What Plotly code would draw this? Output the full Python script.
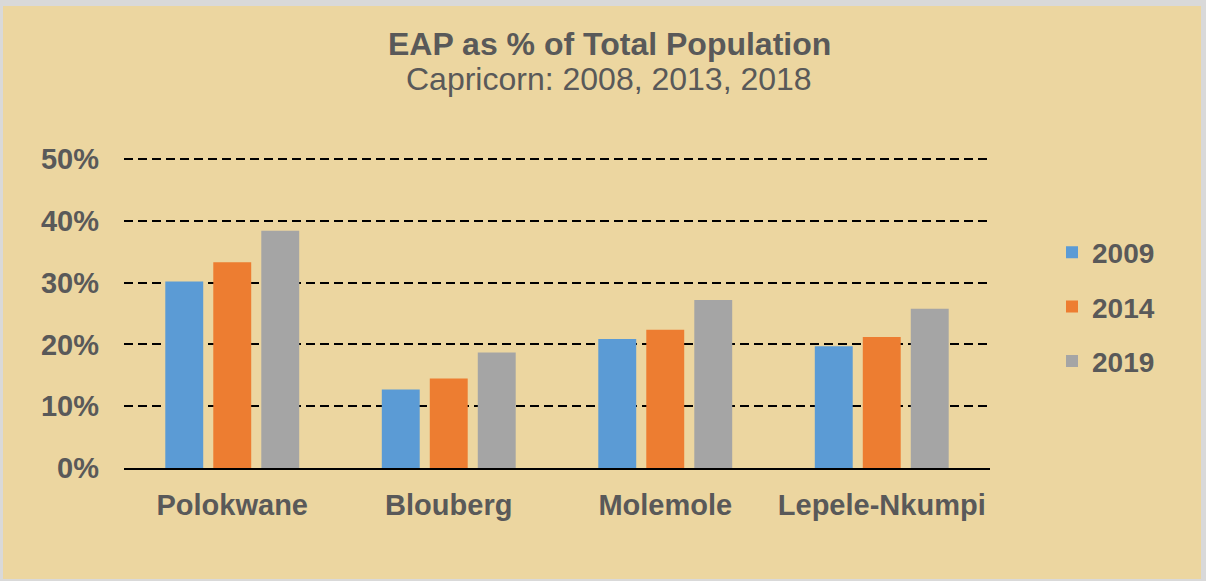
import plotly.graph_objects as go

categories = ["Polokwane", "Blouberg", "Molemole", "Lepele-Nkumpi"]
years = ["2009", "2014", "2019"]
v2009 = [0.302, 0.127, 0.209, 0.197]
v2014 = [0.333, 0.145, 0.224, 0.212]
v2019 = [0.384, 0.187, 0.272, 0.258]
series = [v2009, v2014, v2019]
colors = ["#5B9BD5", "#ED7D31", "#A5A5A5"]
yticks = [0, 0.1, 0.2, 0.3, 0.4, 0.5]
ytick_text = ["0%", "10%", "20%", "30%", "40%", "50%"]
ymax = 0.502

W, H = 1206, 581
L, R, B = 124, 216, 113
T = 159 - round((ymax - 0.5) / 0.5 * 309)
pw, ph = W - L - R, H - T - B

def px_x(x):
    return (x - L) / pw

def px_y(y):
    return (H - B - y) / ph

FONT = "Liberation Sans, Arial, sans-serif"
TXT = "#595959"

fig = go.Figure()
for name, vals, c in zip(years, series, colors):
    fig.add_trace(go.Bar(x=categories, y=vals, name=name, marker=dict(color=c, line=dict(width=0)),
                         legendgroup=name))

fig.update_layout(
    width=W, height=H,
    margin=dict(l=L, r=R, t=T, b=B),
    paper_bgcolor="#D9D9D9",
    plot_bgcolor="rgba(0,0,0,0)",
    barmode="group", bargap=0.335, bargroupgap=0.21,
    font=dict(family=FONT, color=TXT),
    showlegend=True,
    legend=dict(x=px_x(1052), y=px_y(307), xanchor="left", yanchor="middle",
                font=dict(size=28, family=FONT, color=TXT, weight="bold"),
                traceorder="grouped", tracegroupgap=15, bgcolor="rgba(0,0,0,0)",
                itemwidth=30),
    shapes=[dict(type="rect", xref="paper", yref="paper", layer="below",
                 x0=px_x(3), x1=px_x(1201), y0=px_y(579), y1=px_y(6),
                 fillcolor="#ECD6A0", line=dict(width=0))],
    annotations=[
        dict(text="<b>EAP as % of Total Population</b>", xref="paper", yref="paper",
             x=px_x(609), y=px_y(44), xanchor="center", yanchor="middle", showarrow=False,
             font=dict(size=32, family=FONT, color=TXT)),
        dict(text="Capricorn: 2008, 2013, 2018", xref="paper", yref="paper",
             x=px_x(609), y=px_y(79), xanchor="center", yanchor="middle", showarrow=False,
             font=dict(size=32, family=FONT, color=TXT)),
    ],
)
fig.update_yaxes(range=[0, ymax], tickvals=yticks, ticktext=ytick_text,
                 showgrid=True, gridcolor="black", gridwidth=2, griddash="9px,5px",
                 zeroline=False, showline=False, ticks="", ticklabelstandoff=24,
                 tickfont=dict(size=29, family=FONT, color=TXT, weight="bold"))
fig.update_xaxes(showline=True, linecolor="black", linewidth=2, ticks="",
                 ticklabelstandoff=10, showgrid=False,
                 tickfont=dict(size=29, family=FONT, color=TXT, weight="bold"))

fig.write_html("out.html", config={"displayModeBar": False},
               post_script="document.body.style.margin='0';")
